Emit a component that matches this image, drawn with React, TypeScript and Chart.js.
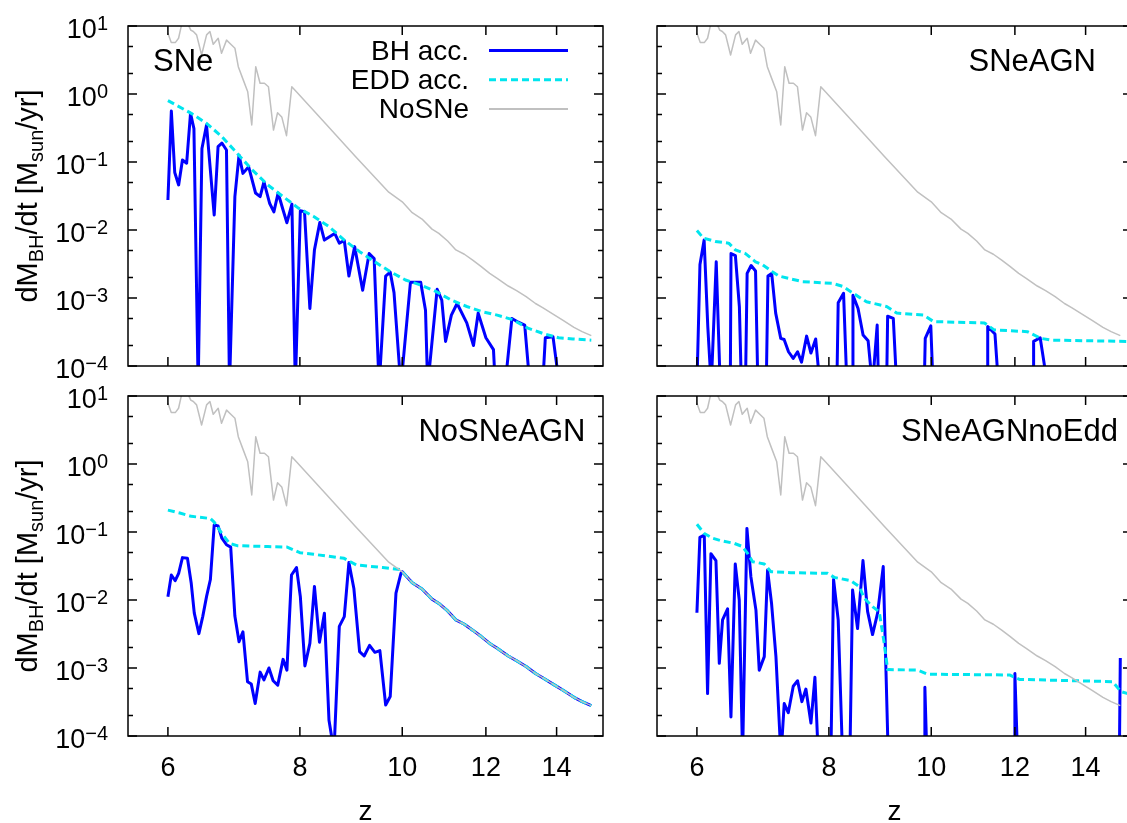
import React, { useEffect, useRef } from 'react';
import { Chart, registerables } from 'chart.js';

Chart.register(...registerables);

const FONT = '"Liberation Sans", Arial, Helvetica, sans-serif';

// ---------- data (z = redshift, values in Msun/yr) ----------
// Reference run "NoSNe" (same curve in every panel)
const NOSNE_Z = [6.0, 6.044, 6.097, 6.141, 6.19, 6.245, 6.285, 6.306, 6.342, 6.387, 6.457, 6.528, 6.575, 6.623, 6.695, 6.744, 6.818, 6.893, 6.944, 6.995, 7.072, 7.14, 7.203, 7.266, 7.335, 7.405, 7.47, 7.553, 7.62, 7.69, 7.77, 7.86, 7.94, 8.4, 9.03, 9.71, 10.0, 10.22, 10.44, 10.67, 10.83, 11.04, 11.24, 11.45, 11.66, 11.88, 12.1, 12.3, 12.6, 12.83, 13.1, 13.37, 13.58, 13.94, 14.2, 14.54, 14.8, 15.1];
const NOSNE_V = [7.8, 5.7, 5.7, 6.6, 11.5, 12, 9.8, 8.7, 8.3, 7.4, 3.75, 7.4, 8.3, 5.4, 6.6, 3.96, 6.2, 5.25, 4.7, 2.52, 1.6, 1.08, 0.35, 2.52, 1.44, 1.44, 1.28, 0.295, 0.53, 0.46, 0.244, 1.28, 1.08, 0.415, 0.12, 0.036, 0.026, 0.018, 0.0145, 0.0103, 0.0089, 0.0069, 0.0051, 0.0044, 0.0036, 0.0029, 0.0023, 0.00195, 0.0015, 0.00128, 0.00105, 0.00083, 0.00072, 0.00056, 0.00047, 0.00037, 0.00032, 0.00028];

// Panel "SNe"
const SNE_BH_Z = [6.0, 6.045, 6.09, 6.142, 6.193, 6.25, 6.303, 6.35, 6.409, 6.462, 6.527, 6.637, 6.693, 6.749, 6.817, 6.862, 6.943, 7.006, 7.066, 7.155, 7.263, 7.336, 7.397, 7.491, 7.559, 7.629, 7.712, 7.777, 7.862, 7.921, 8.008, 8.081, 8.176, 8.258, 8.355, 8.439, 8.631, 8.718, 8.813, 8.902, 9.014, 9.173, 9.304, 9.406, 9.508, 9.645, 9.741, 9.822, 9.97, 10.18, 10.41, 10.52, 10.57, 10.79, 10.9, 10.99, 11.13, 11.27, 11.51, 11.68, 11.8, 12.0, 12.2, 12.25, 12.51, 12.7, 12.88, 13.06, 13.21, 13.58, 13.66, 13.89, 14.09];
const SNE_BH_V = [0.0276, 0.56, 0.07, 0.046, 0.107, 0.096, 0.52, 0.31, 5e-5, 0.158, 0.35, 0.0166, 0.168, 0.19, 0.15, 5e-5, 0.031, 0.126, 0.068, 0.085, 0.035, 0.031, 0.051, 0.0245, 0.0185, 0.035, 0.0197, 0.0128, 0.024, 5e-5, 0.0192, 0.0186, 0.0007, 0.0051, 0.0129, 0.0071, 0.0089, 0.0064, 0.007, 0.0021, 0.0057, 0.0013, 0.0045, 0.0038, 5e-5, 0.0021, 0.0024, 0.0012, 5e-5, 0.0017, 0.0017, 0.00066, 5e-5, 0.00134, 0.00093, 0.00023, 0.00056, 0.00083, 0.00043, 0.0002, 0.0006, 0.00026, 0.000174, 5e-5, 5e-5, 0.0005, 0.00044, 0.0004, 5e-5, 5e-5, 0.00026, 0.00027, 5e-5];
const SNE_EDD_Z = [6.0, 6.313, 6.527, 6.749, 6.978, 7.214, 7.459, 7.712, 7.974, 8.245, 8.524, 8.813, 9.112, 9.421, 9.741, 10.07, 10.41, 10.77, 11.13, 11.51, 11.9, 12.3, 12.72, 13.15, 13.6, 14.06, 14.5, 15.1];
const SNE_EDD_V = [0.8, 0.52, 0.37, 0.236, 0.134, 0.076, 0.046, 0.031, 0.021, 0.0158, 0.0112, 0.0071, 0.0048, 0.0034, 0.00244, 0.00184, 0.00155, 0.00124, 0.00093, 0.00075, 0.00063, 0.00056, 0.00048, 0.00036, 0.0003, 0.00026, 0.00025, 0.00024];

// Panel "SNeAGN"
const SNEAGN_BH_Z = [6.0, 6.04, 6.095, 6.144, 6.19, 6.258, 6.313, 6.453, 6.463, 6.525, 6.582, 6.611, 6.67, 6.694, 6.753, 6.818, 6.853, 6.979, 7.005, 7.062, 7.124, 7.203, 7.256, 7.326, 7.401, 7.472, 7.537, 7.621, 7.693, 7.773, 7.847, 8.14, 8.164, 8.26, 8.321, 8.42, 8.431, 8.525, 8.619, 8.714, 8.797, 8.888, 8.914, 9.073, 9.093, 9.206, 9.275, 9.848, 9.87, 9.99, 10.04, 11.3, 11.31, 11.49, 11.58, 12.49, 12.5, 12.68, 12.89];
const SNEAGN_BH_V = [5e-5, 0.0031, 0.0071, 0.00038, 5e-5, 0.0034, 5e-5, 5e-5, 0.0045, 0.0042, 0.00074, 5e-5, 5e-5, 0.0023, 0.003, 0.0025, 5e-5, 5e-5, 0.0021, 0.0023, 0.0006, 0.000255, 0.000245, 0.000162, 0.000129, 0.000162, 0.000114, 0.000275, 0.000155, 0.00025, 5e-5, 5e-5, 0.00085, 0.00117, 5e-5, 5e-5, 0.0011, 0.0007, 0.000286, 0.000236, 5e-5, 0.0004, 5e-5, 5e-5, 0.00054, 0.0005, 5e-5, 5e-5, 0.000255, 0.00039, 5e-5, 5e-5, 0.00038, 0.000295, 5e-5, 5e-5, 0.00023, 0.00026, 5e-5];
const SNEAGN_EDD_Z = [6.0, 6.086, 6.244, 6.43, 6.525, 6.67, 6.818, 6.918, 7.072, 7.176, 7.553, 8.069, 8.248, 8.43, 8.683, 9.073, 9.275, 9.835, 10.05, 11.23, 11.47, 12.33, 12.7, 12.98, 15.35];
const SNEAGN_EDD_V = [0.0098, 0.0076, 0.0068, 0.0064, 0.0051, 0.0045, 0.0034, 0.0031, 0.00244, 0.0021, 0.00174, 0.00164, 0.00148, 0.00118, 0.00088, 0.00075, 0.0006, 0.00056, 0.00045, 0.00043, 0.00034, 0.00032, 0.000255, 0.00024, 0.00023];

// Panel "NoSNeAGN" (for z >= 10 both curves follow the NoSNe run)
const NOSNEAGN_BH_Z = [6.0, 6.045, 6.096, 6.142, 6.193, 6.261, 6.313, 6.355, 6.419, 6.473, 6.527, 6.582, 6.637, 6.693, 6.749, 6.817, 6.88, 6.943, 7.006, 7.066, 7.137, 7.196, 7.257, 7.336, 7.397, 7.478, 7.547, 7.623, 7.712, 7.777, 7.855, 7.941, 8.008, 8.088, 8.176, 8.258, 8.349, 8.439, 8.524, 8.618, 8.718, 8.813, 8.902, 8.999, 9.112, 9.203, 9.312, 9.421, 9.524, 9.645, 9.741, 9.864, 9.97];
const NOSNEAGN_BH_V = [0.0112, 0.0233, 0.0192, 0.0247, 0.042, 0.041, 0.0176, 0.0064, 0.0032, 0.0057, 0.0112, 0.02, 0.127, 0.123, 0.081, 0.065, 0.06, 0.0058, 0.00244, 0.0034, 0.00063, 0.00058, 0.0003, 0.00087, 0.00067, 0.001, 0.00065, 0.00056, 0.00134, 0.00093, 0.0233, 0.03, 0.0112, 0.00107, 0.0023, 0.0158, 0.0024, 0.0064, 0.00017, 0.00006, 0.0041, 0.0057, 0.0355, 0.0148, 0.00174, 0.0015, 0.00215, 0.0017, 0.0018, 0.000286, 0.00038, 0.0126, 0.0245];
const NOSNEAGN_EDD_Z = [6.0, 6.157, 6.313, 6.58, 6.637, 6.749, 6.862, 6.978, 7.46, 7.78, 8.0, 8.245, 8.81, 9.05, 9.58, 9.95];
const NOSNEAGN_EDD_V = [0.21, 0.19, 0.17, 0.158, 0.14, 0.095, 0.068, 0.063, 0.061, 0.06, 0.0497, 0.047, 0.041, 0.0327, 0.03, 0.028];
const NOSNEAGN_MERGE_Z = 10.0;

// Panel "SNeAGNnoEdd"
const NOEDD_BH_Z = [6.0, 6.039, 6.097, 6.141, 6.186, 6.254, 6.3, 6.345, 6.415, 6.462, 6.523, 6.58, 6.628, 6.691, 6.749, 6.824, 6.873, 6.949, 6.999, 7.06, 7.128, 7.206, 7.258, 7.322, 7.402, 7.472, 7.543, 7.609, 7.693, 7.76, 7.817, 8.035, 8.082, 8.164, 8.242, 8.375, 8.424, 8.516, 8.617, 8.704, 8.799, 8.896, 9.006, 9.105, 9.848, 9.862, 9.905, 11.99, 12.0, 12.07, 15.07, 15.1];
const NOEDD_BH_V = [0.0065, 0.0836, 0.09, 0.00042, 0.048, 0.038, 0.00117, 0.0051, 0.0074, 0.00019, 0.0339, 0.01, 5e-5, 0.113, 0.022, 0.0071, 0.00093, 0.00147, 0.0275, 0.0089, 0.00147, 5e-5, 0.0003, 0.00022, 0.00054, 0.00065, 0.00032, 0.00049, 0.000155, 0.00073, 5e-5, 5e-5, 0.02, 0.0051, 5e-5, 5e-5, 0.014, 0.0038, 0.038, 0.0068, 0.0031, 0.0064, 0.031, 5e-5, 5e-5, 0.00052, 5e-5, 5e-5, 0.00083, 5e-5, 5e-5, 0.0014];
const NOEDD_EDD_Z = [6.0, 6.097, 6.208, 6.322, 6.509, 6.628, 6.7, 6.774, 6.949, 7.05, 7.364, 7.977, 8.094, 8.394, 8.547, 8.641, 8.799, 8.928, 9.026, 9.092, 9.706, 9.92, 11.86, 12.12, 14.85, 15.12, 15.35];
const NOEDD_EDD_V = [0.13, 0.095, 0.081, 0.0746, 0.068, 0.061, 0.0485, 0.0366, 0.0339, 0.0261, 0.0252, 0.0247, 0.0215, 0.0192, 0.0158, 0.0106, 0.008, 0.0067, 0.0023, 0.00095, 0.00093, 0.00081, 0.00079, 0.00068, 0.00063, 0.00045, 0.00042];

// axes / text
const X_TICKS = [6, 8, 10, 12, 14];
const Y_DECADES = [-4, -3, -2, -1, 0, 1];
const Y_MINOR = [2, 5];
const X_MIN = 5.5;
const X_MAX = 15.49;
const Y_MIN = 1e-4;
const Y_MAX = 10;
const LEGEND_LABELS = ['BH acc.', 'EDD acc.', 'NoSNe'];
const PANEL_NAMES = ['SNe', 'SNeAGN', 'NoSNeAGN', 'SNeAGNnoEdd'];
const X_TITLE = 'z';
const Y_TITLE_PARTS: [string, boolean][] = [['dM', false], ['BH', true], ['/dt [M', false], ['sun', true], ['/yr]', false]];

// ---------- styles ----------
const STYLE = {
  bh: { color: '#0000ff', width: 3, dash: [] as number[] },
  edd: { color: '#00e5ee', width: 3, dash: [7, 4] },
  ref: { color: '#c0c0c0', width: 1.5, dash: [] as number[] },
};

function tailFrom(zs: number[], vs: number[], z0: number): [number[], number[]] {
  const i = zs.findIndex((z) => z >= z0 - 1e-9);
  return [zs.slice(i), vs.slice(i)];
}
const [MERGE_Z, MERGE_V] = tailFrom(NOSNE_Z, NOSNE_V, NOSNEAGN_MERGE_Z);

type Series = { bh: [number[], number[]]; edd: [number[], number[]] };
const SERIES: Series[] = [
  { bh: [SNE_BH_Z, SNE_BH_V], edd: [SNE_EDD_Z, SNE_EDD_V] },
  { bh: [SNEAGN_BH_Z, SNEAGN_BH_V], edd: [SNEAGN_EDD_Z, SNEAGN_EDD_V] },
  {
    bh: [[...NOSNEAGN_BH_Z, ...MERGE_Z], [...NOSNEAGN_BH_V, ...MERGE_V]],
    edd: [[...NOSNEAGN_EDD_Z, ...MERGE_Z], [...NOSNEAGN_EDD_V, ...MERGE_V]],
  },
  { bh: [NOEDD_BH_Z, NOEDD_BH_V], edd: [NOEDD_EDD_Z, NOEDD_EDD_V] },
];

// ---------- layout ----------
type Panel = {
  left: number; top: number; w: number; h: number;
  pad: { left: number; top: number; right: number; bottom: number };
  labelAlign: 'left' | 'right'; labelDx: number;
  yLabels: boolean; xLabels: boolean; legend: boolean;
};
const PANELS: Panel[] = [
  { left: 0, top: 0, w: 630, h: 381, pad: { left: 128, top: 26, right: 27, bottom: 15 }, labelAlign: 'left', labelDx: 25, yLabels: true, xLabels: false, legend: true },
  { left: 630, top: 0, w: 510, h: 381, pad: { left: 27, top: 26, right: 8, bottom: 15 }, labelAlign: 'right', labelDx: -36, yLabels: false, xLabels: false, legend: false },
  { left: 0, top: 381, w: 630, h: 442, pad: { left: 128, top: 15, right: 27, bottom: 87 }, labelAlign: 'right', labelDx: -17.5, yLabels: true, xLabels: true, legend: false },
  { left: 630, top: 381, w: 510, h: 442, pad: { left: 27, top: 15, right: 8, bottom: 87 }, labelAlign: 'right', labelDx: -14, yLabels: false, xLabels: true, legend: false },
];

const f = (s: number) => `${s}px ${FONT}`;

function decorPlugin(p: Panel, name: string) {
  return {
    id: 'decor',
    afterDatasetsDraw(chart: any) {
      const { ctx, chartArea: ca } = chart;
      const xs = chart.scales.x;
      const ys = chart.scales.y;
      ctx.save();
      ctx.strokeStyle = '#000';
      ctx.fillStyle = '#000';
      ctx.lineWidth = 1.5;
      ctx.setLineDash([]);
      ctx.beginPath();
      for (const e of Y_DECADES) {
        const y = ys.getPixelForValue(Math.pow(10, e));
        ctx.moveTo(ca.left, y); ctx.lineTo(ca.left + 9, y);
        ctx.moveTo(ca.right, y); ctx.lineTo(ca.right - 9, y);
        for (const m of Y_MINOR) {
          const v = m * Math.pow(10, e);
          if (v >= Y_MAX) continue;
          const ym = ys.getPixelForValue(v);
          ctx.moveTo(ca.left, ym); ctx.lineTo(ca.left + 5, ym);
          ctx.moveTo(ca.right, ym); ctx.lineTo(ca.right - 5, ym);
        }
      }
      for (const t of X_TICKS) {
        const x = xs.getPixelForValue(t);
        ctx.moveTo(x, ca.bottom); ctx.lineTo(x, ca.bottom - 9);
        ctx.moveTo(x, ca.top); ctx.lineTo(x, ca.top + 9);
      }
      ctx.stroke();
      ctx.strokeRect(ca.left, ca.top, ca.right - ca.left, ca.bottom - ca.top);

      ctx.textBaseline = 'alphabetic';
      // y tick labels
      if (p.yLabels) {
        for (const e of Y_DECADES) {
          const y = ys.getPixelForValue(Math.pow(10, e));
          const exp = e < 0 ? '\u2212' + Math.abs(e) : String(e);
          ctx.font = f(20);
          const we = ctx.measureText(exp).width;
          ctx.font = f(27);
          const wb = ctx.measureText('10').width;
          const right = ca.left - 20;
          ctx.textAlign = 'left';
          ctx.fillText('10', right - we - wb, y + 12);
          ctx.font = f(20);
          ctx.fillText(exp, right - we, y + 4);
        }
        // y title (rotated)
        const cy = (ca.top + ca.bottom) / 2;
        ctx.save();
        ctx.translate(ca.left - 91.5, cy);
        ctx.rotate(-Math.PI / 2);
        let total = 0;
        const widths = Y_TITLE_PARTS.map(([t, sub]) => {
          ctx.font = f(sub ? 20 : 29);
          const w = ctx.measureText(t).width;
          total += w;
          return w;
        });
        let x = -total / 2;
        ctx.textAlign = 'left';
        Y_TITLE_PARTS.forEach(([t, sub], i) => {
          ctx.font = f(sub ? 20 : 29);
          ctx.fillText(t, x, sub ? 6 : 0);
          x += widths[i];
        });
        ctx.restore();
      }
      // x tick labels and title
      if (p.xLabels) {
        ctx.font = f(27);
        ctx.textAlign = 'center';
        for (const t of X_TICKS) {
          ctx.fillText(String(t), xs.getPixelForValue(t), ca.bottom + 40);
        }
        ctx.font = f(28);
        ctx.fillText(X_TITLE, (ca.left + ca.right) / 2, ca.bottom + 83.5);
      }
      // panel label
      ctx.font = f(31);
      ctx.textAlign = p.labelAlign;
      const lx = p.labelAlign === 'left' ? ca.left + p.labelDx : ca.right + p.labelDx;
      ctx.fillText(name, lx, ca.top + 44.7);

      // legend
      if (p.legend) {
        const keys: ('bh' | 'edd' | 'ref')[] = ['bh', 'edd', 'ref'];
        keys.forEach((k, i) => {
          const yLine = ca.top + 24.5 + i * 29.2;
          ctx.font = f(28);
          ctx.textAlign = 'right';
          ctx.fillStyle = '#000';
          ctx.fillText(LEGEND_LABELS[i], ca.left + 341, yLine + 9.5);
          const st = STYLE[k];
          ctx.strokeStyle = st.color;
          ctx.lineWidth = k === 'ref' ? 2 : st.width;
          ctx.setLineDash(st.dash);
          ctx.beginPath();
          ctx.moveTo(ca.left + 361, yLine);
          ctx.lineTo(ca.left + 440, yLine);
          ctx.stroke();
          ctx.setLineDash([]);
        });
      }
      ctx.restore();
    },
  };
}

function ds(label: string, zs: number[], vs: number[], st: { color: string; width: number; dash: number[] }) {
  return {
    label,
    data: zs.map((z, i) => ({ x: z, y: vs[i] })),
    borderColor: st.color,
    backgroundColor: st.color,
    borderWidth: st.width,
    borderDash: st.dash,
    borderJoinStyle: 'round' as const,
    borderCapStyle: 'butt' as const,
    pointRadius: 0,
    tension: 0,
    fill: false,
    clip: 0,
  };
}

function buildConfig(i: number): any {
  const p = PANELS[i];
  const s = SERIES[i];
  return {
    type: 'line',
    data: {
      datasets: [
        ds(LEGEND_LABELS[2], NOSNE_Z, NOSNE_V, STYLE.ref),
        ds(LEGEND_LABELS[1], s.edd[0], s.edd[1], STYLE.edd),
        ds(LEGEND_LABELS[0], s.bh[0], s.bh[1], STYLE.bh),
      ],
    },
    options: {
      responsive: false,
      maintainAspectRatio: false,
      animation: false,
      events: [],
      devicePixelRatio: 1,
      layout: { padding: p.pad },
      plugins: {
        legend: { display: false },
        tooltip: { enabled: false },
        title: { display: false },
      },
      scales: {
        x: { type: 'logarithmic', min: X_MIN, max: X_MAX, display: false },
        y: { type: 'logarithmic', min: Y_MIN, max: Y_MAX, display: false },
      },
    },
    plugins: [decorPlugin(p, PANEL_NAMES[i])],
  };
}

export default function App() {
  const r0 = useRef<HTMLCanvasElement>(null);
  const r1 = useRef<HTMLCanvasElement>(null);
  const r2 = useRef<HTMLCanvasElement>(null);
  const r3 = useRef<HTMLCanvasElement>(null);
  const refs = [r0, r1, r2, r3];

  useEffect(() => {
    const charts = refs.map((r, i) => new Chart(r.current as HTMLCanvasElement, buildConfig(i)));
    return () => charts.forEach((c) => c.destroy());
  }, []);

  return (
    <div style={{ position: 'fixed', left: 0, top: 0, width: 1127, height: 823, overflow: 'hidden', background: '#ffffff' }}>
      {PANELS.map((p, i) => (
        <canvas
          key={PANEL_NAMES[i]}
          ref={refs[i]}
          width={p.w}
          height={p.h}
          style={{ position: 'absolute', left: p.left, top: p.top, width: p.w, height: p.h }}
        />
      ))}
    </div>
  );
}
